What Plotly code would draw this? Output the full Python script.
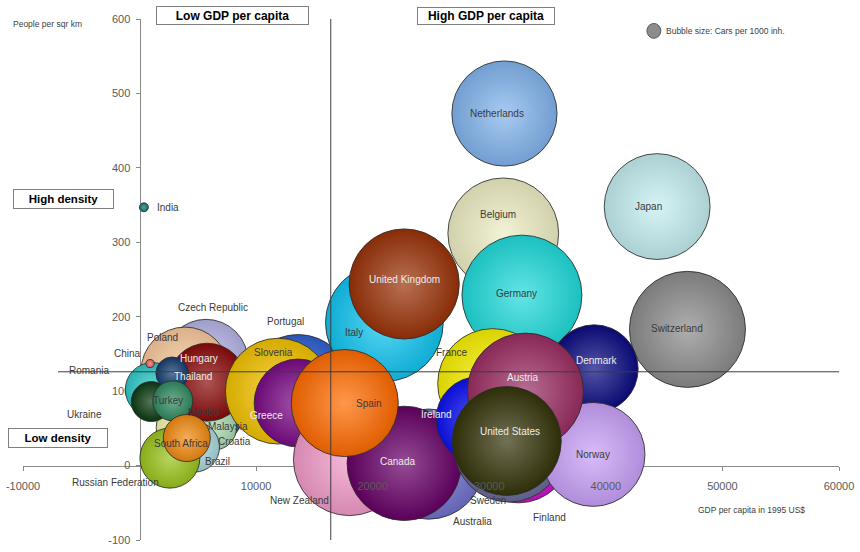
import plotly.graph_objects as go

# ---- data: GDP per capita (1995 US$), population density (people per km2),
# ---- cars per 1000 inhabitants; listed in drawing order (back to front)
countries = [
    "Czech Republic", "Portugal", "Poland", "Croatia", "Mexico", "Malaysia",
    "Brazil", "Russian Federation", "Hungary", "Romania", "Ukraine", "Thailand",
    "Turkey", "South Africa", "China", "India", "Slovenia", "Greece",
    "New Zealand", "Australia", "Canada", "Italy", "Spain", "Belgium",
    "United Kingdom", "Germany", "Netherlands", "Japan", "Switzerland",
    "Denmark", "Finland", "Sweden", "France", "Norway", "Ireland", "Austria",
    "United States",
]
gdp = [
    5700, 13600, 3900, 6100, 4000, 6400,
    4700, 2600, 5800, 1100, 1000, 2800,
    2850, 4050, 900, 370, 11900, 13600,
    18000, 24800, 22700, 21000, 17600, 31200,
    22700, 32800, 31300, 44400, 47000,
    39000, 32500, 31700, 30300, 38900, 29100, 33100,
    31500,
]
density = [
    140, 105, 127, 70, 51, 51,
    25, 10, 112, 102, 86, 124,
    87, 37, 137, 347, 100, 84,
    8, 2, 3, 192, 84, 312,
    244, 229, 473, 348, 183,
    130, 21, 25, 110, 15, 62, 100,
    33,
]
cars = [
    265, 420, 290, 155, 135, 75,
    95, 135, 228, 110, 60, 40,
    60, 83, 2.5, 3, 420, 290,
    470, 455, 490, 520, 430, 460,
    455, 540, 415, 420, 505,
    290, 420, 455, 455, 405, 275, 505,
    445,
]
base_colors = [
    "#b4b4e6", "#2f5fd0", "#f8c89c", "#1f6fc8", "#f2f2a6", "#a8d8b0",
    "#a8d8dc", "#99c21a", "#8a0a0a", "#2ec8c8", "#0a3a12", "#143c6e",
    "#2e8a5e", "#f08a10", "#f06464", "#0e7a72", "#f2c200", "#7a0a86",
    "#f29ac8", "#7070cc", "#660066", "#10c4f0", "#ff6a00", "#ededc4",
    "#9a3208", "#20dada", "#82b4ec", "#c4eef0", "#8c8c8c",
    "#0a0a80", "#cc10cc", "#6a6a9c", "#f8f000", "#c8a0f8", "#0a10f0", "#9a2e62",
    "#34340a",
]

x_ticks = [-10000, 10000, 20000, 30000, 40000, 50000, 60000]
y_ticks = [-100, 0, 100, 200, 300, 400, 500, 600]

# quadrant dividers
gdp_split = 16400
density_split = 126
density_line_start = -7000

# label placement (pixel shifts from the bubble centre, y up)
label_shift = {
    "India": (24, 0), "China": (-23, 10), "Romania": (-63, 19),
    "Ukraine": (-67, -13), "Thailand": (21, -3), "Turkey": (-5, 0),
    "Hungary": (-8, 24), "Czech Republic": (7, 54), "Poland": (-23, 34),
    "Mexico": (18, 15), "Malaysia": (14, 1), "Croatia": (24, -28),
    "South Africa": (-6, -5), "Russian Federation": (-54, -24),
    "Brazil": (23, -15), "Slovenia": (-5, 39), "Portugal": (-13, 66),
    "Greece": (-32, -12), "Spain": (24, 0), "New Zealand": (-50, -41),
    "Canada": (-7, 2), "Australia": (44, -57), "Italy": (-30, -10),
    "United Kingdom": (0, 4), "Belgium": (-5, 19), "Germany": (-5, 2),
    "Netherlands": (-7, 0), "Japan": (-9, 0), "Switzerland": (-10, 1),
    "Denmark": (3, 8), "France": (-41, 31), "Austria": (-2, 14),
    "Ireland": (-42, 5), "United States": (3, 10), "Sweden": (-21, -54),
    "Finland": (31, -68), "Norway": (0, 0),
}
light_labels = {"Hungary", "Thailand", "Greece", "United Kingdom", "Canada",
                "Denmark", "Austria", "Ireland", "United States"}

FONT = "Liberation Sans, Arial, sans-serif"


def mix(hex_color, target, t):
    r, g, b = (int(hex_color[i:i + 2], 16) for i in (1, 3, 5))
    tr, tg, tb = target
    return "#%02x%02x%02x" % (round(r + (tr - r) * t),
                              round(g + (tg - g) * t),
                              round(b + (tb - b) * t))


# sphere shading: lighter centre fading to a slightly darker rim
edge_colors = [mix(c, (0, 0, 0), 0.12) for c in base_colors]
glow_colors = [mix(c, (255, 255, 255), 0.3) for c in base_colors]

fig = go.Figure()

fig.add_trace(go.Scatter(
    x=gdp, y=density, mode="markers", text=countries,
    hovertemplate="%{text}<br>GDP: %{x}<br>Density: %{y}<extra></extra>",
    marker=dict(
        size=cars, sizemode="area", sizeref=0.075,
        color=edge_colors,
        gradient=dict(type="radial", color=glow_colors),
        line=dict(color="rgba(45,45,45,0.85)", width=1),
        opacity=1,
    ),
    showlegend=False,
))

# quadrant lines, drawn over the bubbles on the overlay axis
fig.add_trace(go.Scatter(
    x=[gdp_split, gdp_split, None, density_line_start, x_ticks[-1]],
    y=[y_ticks[0], y_ticks[-1], None, density_split, density_split],
    xaxis="x2", mode="lines", line=dict(color="#3c3c3c", width=1),
    hoverinfo="skip", showlegend=False,
))

annotations = []
for name, gx, dy in zip(countries, gdp, density):
    sx, sy = label_shift[name]
    annotations.append(dict(
        x=gx, y=dy, xref="x", yref="y", text=name, showarrow=False,
        xshift=sx, yshift=sy,
        font=dict(family=FONT, size=10,
                  color="#ececec" if name in light_labels else "#3a3a3a"),
    ))

# plot-area pixel helpers for the decorations around the chart
L, T, W, H = 21, 19, 822, 527


def px(xp):
    return (xp - L) / W


def py(yp):
    return (T + H - yp) / H


def box(text, cx, cy, w, h, size):
    return dict(x=px(cx), y=py(cy), xref="paper", yref="paper", text="<b>%s</b>" % text,
                showarrow=False, width=w, height=h, borderpad=1, borderwidth=1,
                bordercolor="#7f7f7f", bgcolor="white", xanchor="center", yanchor="middle",
                font=dict(family=FONT, size=size, color="black"))


annotations += [
    box("Low GDP per capita", 232.5, 15.5, 149, 15, 12),
    box("High GDP per capita", 487, 16, 134, 14, 12),
    box("High density", 61.3, 201, 97, 16, 11.5),
    box("Low density", 56.7, 442.5, 96, 16, 11.5),
    dict(x=px(9), y=py(24), xref="paper", yref="paper", text="People per sqr km",
         showarrow=False, xanchor="left", yanchor="middle",
         font=dict(family=FONT, size=8.5, color="#404040")),
    dict(x=px(699), y=py(515.7), xref="paper", yref="paper",
         text="GDP per capita in 1995 US$", showarrow=False, xanchor="left",
         yanchor="middle", font=dict(family=FONT, size=8.5, color="#404040")),
    dict(x=px(667), y=py(31), xref="paper", yref="paper",
         text="Bubble size: Cars per 1000 inh.", showarrow=False, xanchor="left",
         yanchor="middle", font=dict(family=FONT, size=8.5, color="#404040")),
]

shapes = [dict(type="circle", xref="paper", yref="paper",
               x0=px(649.5), x1=px(663.5), y0=py(38.5), y1=py(23.5),
               fillcolor="#8c8c8c", line=dict(color="#5a5a5a", width=1))]

axis_font = dict(family=FONT, size=11, color="#5a5a5a")
x_labels = [str(v) for v in x_ticks]
y_labels = [str(v) for v in y_ticks]

fig.update_layout(
    width=860, height=552,
    margin=dict(l=L, r=860 - L - W, t=T, b=552 - T - H),
    paper_bgcolor="white", plot_bgcolor="white",
    font=dict(family=FONT),
    xaxis=dict(range=[x_ticks[0], x_ticks[-1]], tickvals=x_ticks,
               showticklabels=False, ticks="outside", ticklen=4,
               tickcolor="#8a8a8a", showline=True, linecolor="#8a8a8a",
               linewidth=1, showgrid=False, zeroline=False,
               anchor="free", position=1 / 7, layer="below traces"),
    xaxis2=dict(range=[x_ticks[0], x_ticks[-1]], tickvals=x_ticks,
                ticktext=x_labels, overlaying="x", anchor="free", position=1 / 7,
                showticklabels=True, ticks="outside", ticklen=4,
                ticklabelstandoff=6,
                tickcolor="rgba(0,0,0,0)", showline=False, showgrid=False,
                zeroline=False, tickfont=axis_font, layer="above traces"),
    yaxis=dict(range=[y_ticks[0], y_ticks[-1]], tickvals=y_ticks,
               ticktext=y_labels, ticklabelstandoff=3,
               ticks="outside", ticklen=4, tickcolor="#8a8a8a",
               showline=True, linecolor="#8a8a8a", linewidth=1,
               showgrid=False, zeroline=False, tickfont=axis_font,
               anchor="free", position=1 / 7, layer="below traces"),
    annotations=annotations,
    shapes=shapes,
)

fig.write_html("out.html")
